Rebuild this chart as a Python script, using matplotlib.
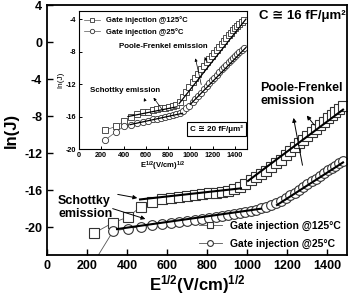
import numpy as np
import matplotlib
matplotlib.use("Agg")
from matplotlib import pyplot as plt

plt.rcParams['font.family'] = ['Liberation Sans', 'DejaVu Sans']
plt.rcParams['font.weight'] = 'bold'
plt.rcParams['axes.unicode_minus'] = False
plt.rcParams['mathtext.fontset'] = 'custom'
plt.rcParams['mathtext.rm'] = 'Liberation Sans:bold'
plt.rcParams['mathtext.bf'] = 'Liberation Sans:bold'
plt.rcParams['mathtext.it'] = 'Liberation Sans:bold'

# E^(1/2) values, (V/cm)^(1/2)
e_sqrt = [234, 331, 405, 468, 523, 573, 619, 662, 702, 740,
          776, 810, 843, 875, 906, 936, 964, 992, 1020, 1046,
          1072, 1097, 1122, 1146, 1169, 1193, 1215, 1238, 1260, 1281,
          1302, 1323, 1344, 1364, 1384, 1403, 1423, 1442, 1461, 1479]

# main plot, C = 16 fF/um^2
lnj_125 = [-20.65, -19.5, -18.9, -17.8, -17.3, -17.0, -16.85, -16.75, -16.65, -16.55,
           -16.45, -16.35, -16.25, -16.15, -16.05, -15.9, -15.65, -15.35, -14.9, -14.6,
           -14.3, -13.95, -13.5, -13.1, -12.7, -12.2, -11.8, -11.35, -10.95, -10.55,
           -10.15, -9.75, -9.35, -8.95, -8.6, -8.25, -7.9, -7.55, -7.2, -6.9]
lnj_25 = [-23.8, -20.4, -20.15, -19.95, -19.8, -19.65, -19.5, -19.4, -19.3, -19.2,
          -19.1, -19.0, -18.9, -18.8, -18.7, -18.6, -18.5, -18.4, -18.25, -18.1,
          -17.95, -17.8, -17.6, -17.4, -17.15, -16.85, -16.55, -16.25, -15.95, -15.65,
          -15.35, -15.05, -14.75, -14.45, -14.15, -13.85, -13.6, -13.35, -13.1, -12.85]

# inset, C = 20 fF/um^2
in_125 = [-17.7, -17.2, -16.6, -16.0, -15.7, -15.5, -15.4, -15.25, -15.1, -15.0,
          -14.9, -14.8, -14.75, -14.6, -14.2, -13.6, -13.0, -12.4, -11.8, -11.25,
          -10.7, -10.2, -9.75, -9.3, -8.9, -8.5, -8.15, -7.75, -7.4, -7.05,
          -6.7, -6.35, -6.0, -5.7, -5.4, -5.1, -4.8, -4.55, -4.3, -4.05]
in_25 = [-18.9, -17.9, -17.2, -17.0, -16.85, -16.65, -16.5, -16.35, -16.25, -16.15,
         -16.05, -15.95, -15.85, -15.7, -15.55, -15.3, -15.0, -14.65, -14.25, -13.85,
         -13.45, -13.05, -12.65, -12.25, -11.9, -11.55, -11.2, -10.85, -10.5, -10.2,
         -9.9, -9.6, -9.3, -9.0, -8.75, -8.5, -8.25, -8.0, -7.8, -7.6]

# fitted lines (x0, x1, y0, y1)
fit_main = [(465, 970, -17.0, -15.8), (1005, 1480, -15.0, -7.3),
            (350, 1070, -20.2, -18.0), (1150, 1480, -17.6, -13.0)]
fit_inset = [(440, 880, -16.0, -14.8), (900, 1500, -14.4, -4.0),
             (458, 930, -17.0, -15.6), (1000, 1500, -14.5, -7.5)]

fig = plt.figure(figsize=(3.49, 2.96), dpi=100)
ax = fig.add_axes([0.1347, 0.1385, 0.8596, 0.8446])

mk = dict(markerfacecolor='white', markeredgecolor='#333333', color='#555555',
          linewidth=0.6, markeredgewidth=0.8)
ax.plot(e_sqrt, lnj_125, marker='s', markersize=6.5, label='Gate injection @125°C', **mk)
ax.plot(e_sqrt, lnj_25, marker='o', markersize=7, label='Gate injection @25°C', **mk)
for x0, x1, y0, y1 in fit_main:
    ax.plot([x0, x1], [y0, y1], color='black', linewidth=1.5)

ax.set_xlim(0, 1500)
ax.set_ylim(-23, 4)
ax.set_xticks(range(0, 1401, 200))
ax.set_yticks(range(-20, 5, 4))
ax.tick_params(direction='in', length=4, width=1, labelsize=9)
for s in ax.spines.values():
    s.set_linewidth(1.3)
ax.set_xlabel(r'$\mathbf{E^{1/2}(V/cm)^{1/2}}$', fontsize=12, labelpad=1)
ax.set_ylabel('ln(J)', fontsize=12, fontweight='bold', labelpad=4)

ax.text(0.995, 0.945, 'C ≅ 16 fF/μm²', transform=ax.transAxes, fontsize=9.5,
        fontweight='bold', ha='right')
ax.text(1065, -7.0, 'Poole-Frenkel\nemission', fontsize=9, fontweight='bold',
        linespacing=1.1, va='bottom')
ax.text(55, -19.25, 'Schottky\nemission', fontsize=9, fontweight='bold',
        linespacing=1.1, va='bottom')
arr = dict(arrowstyle='-|>', color='black', lw=0.7, mutation_scale=6)
ax.annotate('', xy=(1230, -7.9), xytext=(1280, -13.6), arrowprops=arr)
ax.annotate('', xy=(1290, -7.7), xytext=(1345, -9.2), arrowprops=arr)
ax.annotate('', xy=(465, -16.9), xytext=(340, -16.4), arrowprops=arr)
ax.annotate('', xy=(505, -19.2), xytext=(315, -17.9), arrowprops=arr)

ax.legend(loc='lower right', frameon=False, fontsize=7.5, handlelength=2.2,
          markerscale=0.6, borderaxespad=0.2, labelspacing=0.75)

# inset
ins = fig.add_axes([0.2264, 0.4966, 0.4814, 0.4662])
mk2 = dict(markerfacecolor='white', markeredgecolor='#333333', color='#555555',
           linewidth=0.5, markeredgewidth=0.6)
ins.plot(e_sqrt, in_125, marker='s', markersize=4.2, label='Gate injection @125°C', **mk2)
ins.plot(e_sqrt, in_25, marker='o', markersize=4.5, label='Gate injection @25°C', **mk2)
for x0, x1, y0, y1 in fit_inset:
    ins.plot([x0, x1], [y0, y1], color='black', linewidth=0.9)
ins.set_xlim(0, 1510)
ins.set_ylim(-20, -3)
ins.set_xticks(range(0, 1401, 200))
ins.set_yticks(range(-20, -3, 4))
ins.tick_params(direction='in', length=2.5, width=0.7, labelsize=5.2, pad=2)
for s in ins.spines.values():
    s.set_linewidth(0.8)
ins.set_xlabel(r'$\mathbf{E^{1/2}(V/cm)^{1/2}}$', fontsize=5.5, labelpad=1)
ins.set_ylabel('ln(J)', fontsize=6, fontweight='normal', labelpad=1)
ins.legend(loc='upper left', frameon=False, fontsize=5.5, handlelength=2.0,
           markerscale=0.7, borderaxespad=0.3, labelspacing=0.5)
ins.text(360, -7.4, 'Poole-Frenkel emission', fontsize=5.7, fontweight='bold',
         va='center')
ins.text(100, -12.8, 'Schottky emission', fontsize=5.7, fontweight='bold',
         va='center')
arr2 = dict(arrowstyle='-|>', color='black', lw=0.5, mutation_scale=4)
ins.annotate('', xy=(1041, -8.5), xytext=(1104, -12.4), arrowprops=arr2)
ins.annotate('', xy=(1113, -8.4), xytext=(1167, -9.5), arrowprops=arr2)
ins.annotate('', xy=(575, -13.4), xytext=(601, -14.3), arrowprops=arr2)
ins.annotate('', xy=(655, -13.4), xytext=(772, -15.6), arrowprops=arr2)
ins.text(1475, -17.8, 'C ≅ 20 fF/μm²', fontsize=5.8, fontweight='bold', ha='right',
         bbox=dict(boxstyle='square,pad=0.4', facecolor='white', edgecolor='black',
                   linewidth=0.8))

fig.savefig('out.png', dpi=100)
